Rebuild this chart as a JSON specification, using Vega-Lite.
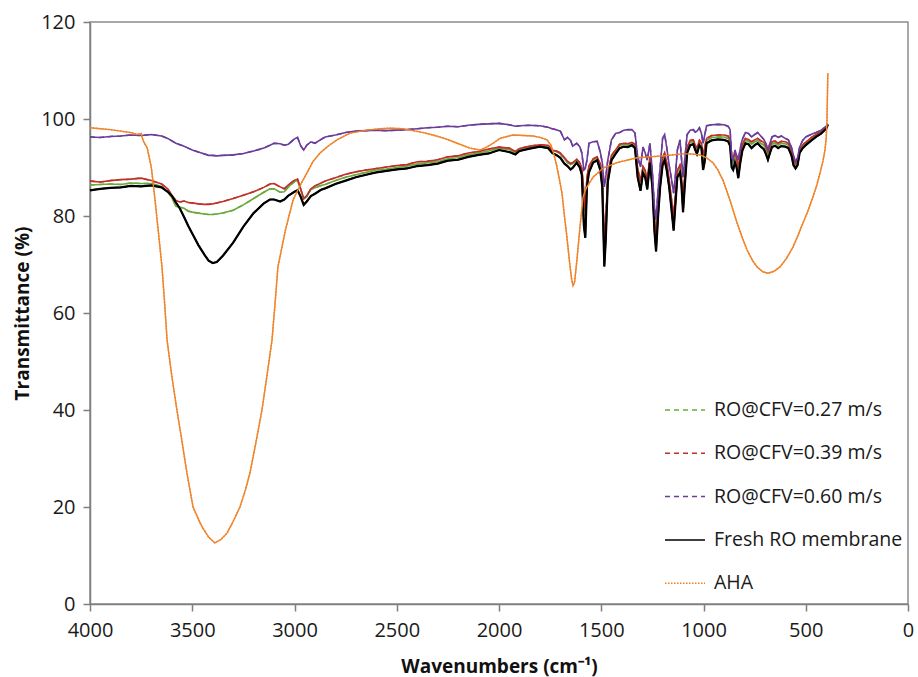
{
  "$schema": "https://vega.github.io/schema/vega-lite/v6.json",
  "width": 818,
  "height": 582,
  "autosize": {"type": "none"},
  "padding": {"left": 90, "top": 22, "right": 10, "bottom": 73},
  "background": "white",
  "config": {
    "font": "Open Sans",
    "view": {"stroke": "#8c8c8c", "strokeWidth": 1.5},
    "axis": {
      "grid": false,
      "domainColor": "#7f7f7f",
      "domainWidth": 1.5,
      "tickColor": "#7f7f7f",
      "tickWidth": 1.5,
      "tickSize": 7,
      "labelFont": "Open Sans",
      "labelFontSize": 20,
      "labelColor": "#1a1a1a",
      "titleFont": "Open Sans",
      "titleFontSize": 19,
      "titleFontWeight": "bold",
      "titleColor": "#111111"
    },
    "legend": {
      "symbolSize": 1600,
      "symbolStrokeWidth": 1.5,
      "rowPadding": 12.3,
      "labelOffset": 8,
      "labelFont": "Open Sans",
      "labelFontSize": 19.5,
      "labelColor": "#1a1a1a",
      "labelLimit": 400,
      "padding": 0
    }
  },
  "data": {
    "values": [
      {"w":4000,"k":85.3,"g":86.4,"r":87.2,"p":96.3},
      {"w":3950,"k":85.6,"g":86.5,"r":87.0,"p":96.2},
      {"w":3900,"k":85.8,"g":86.6,"r":87.3,"p":96.4},
      {"w":3850,"k":85.9,"g":86.5,"r":87.5,"p":96.5},
      {"w":3800,"k":86.2,"g":86.8,"r":87.6,"p":96.7},
      {"w":3750,"k":86.1,"g":86.7,"r":87.8,"p":96.6},
      {"w":3700,"k":86.3,"g":86.7,"r":87.3,"p":96.8},
      {"w":3650,"k":85.9,"g":86.1,"r":86.6,"p":96.5},
      {"w":3620,"k":85.0,"g":85.0,"r":85.6,"p":96.0},
      {"w":3600,"k":84.2,"g":83.8,"r":84.3,"p":95.5},
      {"w":3580,"k":82.8,"g":82.0,"r":83.2,"p":95.0},
      {"w":3560,"k":81.5,"g":81.8,"r":82.9,"p":94.7},
      {"w":3540,"k":79.8,"g":81.6,"r":83.1,"p":94.4},
      {"w":3520,"k":78.0,"g":81.0,"r":82.8,"p":94.0},
      {"w":3500,"k":76.4,"g":80.8,"r":82.7,"p":93.6},
      {"w":3470,"k":74.0,"g":80.6,"r":82.5,"p":93.2},
      {"w":3440,"k":72.0,"g":80.4,"r":82.4,"p":92.8},
      {"w":3420,"k":70.8,"g":80.3,"r":82.4,"p":92.5},
      {"w":3400,"k":70.3,"g":80.3,"r":82.5,"p":92.5},
      {"w":3380,"k":70.5,"g":80.4,"r":82.7,"p":92.4},
      {"w":3350,"k":71.8,"g":80.6,"r":83.0,"p":92.5},
      {"w":3300,"k":74.5,"g":81.2,"r":83.6,"p":92.6},
      {"w":3250,"k":77.8,"g":82.3,"r":84.3,"p":92.9},
      {"w":3200,"k":80.6,"g":83.6,"r":85.0,"p":93.4},
      {"w":3150,"k":82.6,"g":84.9,"r":85.9,"p":94.0},
      {"w":3120,"k":83.4,"g":85.6,"r":86.6,"p":94.6},
      {"w":3100,"k":83.4,"g":85.6,"r":86.7,"p":95.0},
      {"w":3070,"k":83.0,"g":84.9,"r":86.0,"p":94.9},
      {"w":3050,"k":83.4,"g":85.0,"r":85.6,"p":94.6},
      {"w":3030,"k":84.2,"g":86.0,"r":86.4,"p":94.8},
      {"w":3000,"k":85.0,"g":87.1,"r":87.4,"p":95.9},
      {"w":2985,"k":85.3,"g":87.3,"r":87.6,"p":96.2},
      {"w":2970,"k":84.0,"g":85.5,"r":85.6,"p":94.5},
      {"w":2955,"k":82.3,"g":83.5,"r":83.6,"p":93.6},
      {"w":2940,"k":83.0,"g":84.0,"r":84.2,"p":94.6},
      {"w":2920,"k":84.1,"g":85.5,"r":85.6,"p":95.3},
      {"w":2900,"k":84.6,"g":85.8,"r":86.2,"p":95.0},
      {"w":2870,"k":85.4,"g":86.3,"r":86.8,"p":95.8},
      {"w":2850,"k":85.7,"g":86.5,"r":87.2,"p":96.3},
      {"w":2800,"k":86.6,"g":87.3,"r":87.9,"p":96.7},
      {"w":2750,"k":87.3,"g":88.0,"r":88.6,"p":97.2},
      {"w":2700,"k":88.0,"g":88.5,"r":89.1,"p":97.5},
      {"w":2650,"k":88.5,"g":89.0,"r":89.5,"p":97.6},
      {"w":2600,"k":89.0,"g":89.5,"r":89.8,"p":97.7},
      {"w":2550,"k":89.3,"g":89.7,"r":90.1,"p":97.6},
      {"w":2500,"k":89.6,"g":90.0,"r":90.4,"p":97.7},
      {"w":2450,"k":89.8,"g":90.3,"r":90.6,"p":97.8},
      {"w":2400,"k":90.3,"g":90.7,"r":91.2,"p":98.0},
      {"w":2350,"k":90.5,"g":91.0,"r":91.3,"p":98.2},
      {"w":2300,"k":90.8,"g":91.2,"r":91.6,"p":98.3},
      {"w":2250,"k":91.4,"g":91.8,"r":92.2,"p":98.5},
      {"w":2200,"k":91.6,"g":92.0,"r":92.4,"p":98.4},
      {"w":2150,"k":92.2,"g":92.6,"r":93.0,"p":98.7},
      {"w":2100,"k":92.6,"g":93.0,"r":93.3,"p":98.9},
      {"w":2050,"k":92.9,"g":93.4,"r":93.8,"p":99.0},
      {"w":2000,"k":93.6,"g":94.0,"r":94.2,"p":99.1},
      {"w":1950,"k":93.2,"g":93.7,"r":94.0,"p":98.8},
      {"w":1920,"k":92.7,"g":93.0,"r":93.3,"p":98.5},
      {"w":1900,"k":93.4,"g":93.7,"r":93.9,"p":98.6},
      {"w":1850,"k":93.9,"g":94.2,"r":94.4,"p":98.7},
      {"w":1800,"k":94.3,"g":94.5,"r":94.7,"p":98.6},
      {"w":1760,"k":94.0,"g":94.4,"r":94.6,"p":98.3},
      {"w":1740,"k":93.0,"g":93.5,"r":93.6,"p":98.0},
      {"w":1720,"k":92.6,"g":93.3,"r":93.4,"p":97.8},
      {"w":1700,"k":92.0,"g":92.8,"r":93.0,"p":97.5},
      {"w":1680,"k":90.8,"g":91.8,"r":92.0,"p":95.7},
      {"w":1665,"k":90.3,"g":91.0,"r":91.3,"p":96.2},
      {"w":1650,"k":89.6,"g":90.6,"r":90.8,"p":95.6},
      {"w":1640,"k":89.9,"g":90.8,"r":91.0,"p":94.4},
      {"w":1620,"k":91.0,"g":91.5,"r":91.7,"p":95.0},
      {"w":1605,"k":90.0,"g":90.8,"r":91.0,"p":94.3},
      {"w":1595,"k":88.5,"g":89.5,"r":89.8,"p":93.0},
      {"w":1585,"k":78.0,"g":84.0,"r":85.0,"p":89.5},
      {"w":1578,"k":75.5,"g":80.0,"r":81.0,"p":89.8},
      {"w":1570,"k":86.0,"g":87.5,"r":88.0,"p":91.5},
      {"w":1560,"k":89.0,"g":90.0,"r":90.3,"p":95.0},
      {"w":1540,"k":91.0,"g":91.5,"r":91.8,"p":95.3},
      {"w":1520,"k":91.5,"g":92.0,"r":92.2,"p":95.4},
      {"w":1505,"k":89.5,"g":90.5,"r":90.8,"p":93.2},
      {"w":1495,"k":86.0,"g":87.5,"r":88.0,"p":91.0},
      {"w":1485,"k":69.6,"g":73.0,"r":74.5,"p":86.0},
      {"w":1478,"k":75.0,"g":78.0,"r":79.0,"p":88.0},
      {"w":1468,"k":87.0,"g":88.0,"r":88.4,"p":91.5},
      {"w":1450,"k":91.5,"g":92.2,"r":92.5,"p":95.7},
      {"w":1430,"k":92.8,"g":93.3,"r":93.6,"p":97.0},
      {"w":1410,"k":94.0,"g":94.6,"r":94.8,"p":97.2},
      {"w":1390,"k":94.3,"g":94.8,"r":95.0,"p":97.7},
      {"w":1370,"k":94.2,"g":94.6,"r":94.9,"p":97.8},
      {"w":1350,"k":94.6,"g":95.0,"r":95.2,"p":97.8},
      {"w":1335,"k":94.0,"g":94.5,"r":94.8,"p":97.1},
      {"w":1322,"k":88.0,"g":89.5,"r":89.8,"p":92.2},
      {"w":1308,"k":85.2,"g":86.8,"r":87.2,"p":90.1},
      {"w":1296,"k":88.9,"g":89.8,"r":90.2,"p":94.2},
      {"w":1285,"k":88.0,"g":89.0,"r":89.4,"p":93.0},
      {"w":1275,"k":85.5,"g":87.0,"r":87.4,"p":91.5},
      {"w":1262,"k":91.0,"g":91.8,"r":92.2,"p":95.0},
      {"w":1250,"k":86.0,"g":87.0,"r":87.5,"p":89.0},
      {"w":1240,"k":77.0,"g":78.5,"r":79.5,"p":82.0},
      {"w":1232,"k":72.7,"g":74.5,"r":76.0,"p":79.2},
      {"w":1222,"k":80.0,"g":81.5,"r":82.5,"p":85.5},
      {"w":1212,"k":86.0,"g":87.0,"r":87.5,"p":90.0},
      {"w":1200,"k":90.5,"g":91.5,"r":92.0,"p":96.0},
      {"w":1190,"k":91.5,"g":92.5,"r":93.0,"p":96.8},
      {"w":1180,"k":89.5,"g":90.5,"r":91.0,"p":94.2},
      {"w":1168,"k":86.0,"g":87.0,"r":87.5,"p":90.5},
      {"w":1158,"k":82.0,"g":83.5,"r":84.0,"p":88.0},
      {"w":1146,"k":77.0,"g":79.0,"r":80.0,"p":84.7},
      {"w":1138,"k":82.0,"g":83.0,"r":83.8,"p":88.0},
      {"w":1128,"k":88.0,"g":89.0,"r":89.5,"p":93.6},
      {"w":1115,"k":89.0,"g":90.0,"r":90.5,"p":95.7},
      {"w":1108,"k":86.5,"g":87.5,"r":88.0,"p":92.0},
      {"w":1100,"k":80.8,"g":83.0,"r":84.0,"p":88.0},
      {"w":1092,"k":86.0,"g":87.5,"r":88.0,"p":91.5},
      {"w":1080,"k":93.0,"g":93.8,"r":94.2,"p":96.8},
      {"w":1065,"k":94.6,"g":95.2,"r":95.6,"p":97.7},
      {"w":1050,"k":94.8,"g":95.3,"r":95.7,"p":97.8},
      {"w":1040,"k":93.6,"g":94.2,"r":94.6,"p":97.3},
      {"w":1032,"k":92.8,"g":93.5,"r":94.0,"p":97.5},
      {"w":1020,"k":94.6,"g":95.2,"r":95.6,"p":98.2},
      {"w":1010,"k":94.0,"g":94.8,"r":95.0,"p":97.0},
      {"w":1002,"k":89.5,"g":91.5,"r":92.5,"p":95.0},
      {"w":995,"k":91.0,"g":93.0,"r":94.0,"p":96.5},
      {"w":985,"k":95.0,"g":95.6,"r":96.0,"p":98.6},
      {"w":960,"k":95.6,"g":96.2,"r":96.6,"p":98.8},
      {"w":930,"k":95.8,"g":96.3,"r":96.7,"p":98.9},
      {"w":900,"k":95.7,"g":96.3,"r":96.7,"p":98.8},
      {"w":880,"k":95.4,"g":96.0,"r":96.5,"p":98.5},
      {"w":870,"k":94.5,"g":95.3,"r":95.8,"p":97.8},
      {"w":862,"k":90.0,"g":91.5,"r":92.5,"p":92.0},
      {"w":855,"k":89.5,"g":91.0,"r":92.0,"p":91.5},
      {"w":846,"k":91.0,"g":92.0,"r":93.0,"p":93.6},
      {"w":838,"k":90.0,"g":91.0,"r":91.8,"p":92.5},
      {"w":830,"k":87.8,"g":89.0,"r":90.0,"p":91.5},
      {"w":820,"k":91.0,"g":92.2,"r":93.0,"p":94.0},
      {"w":810,"k":93.5,"g":94.3,"r":94.8,"p":95.8},
      {"w":795,"k":95.0,"g":95.6,"r":96.0,"p":97.2},
      {"w":780,"k":94.8,"g":95.4,"r":95.8,"p":97.0},
      {"w":765,"k":94.0,"g":94.8,"r":95.3,"p":96.3},
      {"w":750,"k":94.6,"g":95.3,"r":95.7,"p":96.8},
      {"w":735,"k":95.0,"g":95.6,"r":96.0,"p":97.2},
      {"w":720,"k":94.3,"g":95.0,"r":95.5,"p":96.5},
      {"w":705,"k":93.8,"g":94.6,"r":95.2,"p":95.8},
      {"w":695,"k":92.8,"g":93.8,"r":94.3,"p":95.0},
      {"w":685,"k":91.6,"g":92.6,"r":93.2,"p":93.6},
      {"w":675,"k":93.0,"g":93.8,"r":94.3,"p":95.0},
      {"w":665,"k":94.2,"g":94.8,"r":95.3,"p":96.3},
      {"w":650,"k":94.5,"g":95.1,"r":95.5,"p":96.6},
      {"w":635,"k":94.0,"g":94.6,"r":95.0,"p":96.2},
      {"w":620,"k":94.4,"g":95.0,"r":95.4,"p":96.5},
      {"w":600,"k":94.3,"g":94.9,"r":95.3,"p":96.0},
      {"w":585,"k":94.0,"g":94.6,"r":95.0,"p":95.7},
      {"w":570,"k":92.5,"g":93.2,"r":93.6,"p":94.2},
      {"w":560,"k":90.5,"g":91.2,"r":91.6,"p":92.5},
      {"w":550,"k":89.8,"g":90.5,"r":90.9,"p":91.2},
      {"w":540,"k":90.5,"g":91.2,"r":91.6,"p":92.0},
      {"w":530,"k":93.0,"g":93.5,"r":93.8,"p":94.2},
      {"w":515,"k":94.0,"g":94.5,"r":94.7,"p":95.6},
      {"w":500,"k":94.6,"g":95.0,"r":95.2,"p":96.3},
      {"w":475,"k":95.5,"g":95.9,"r":96.1,"p":96.8},
      {"w":450,"k":96.3,"g":96.6,"r":96.8,"p":97.2},
      {"w":425,"k":97.0,"g":97.2,"r":97.4,"p":97.7},
      {"w":400,"k":98.0,"g":98.2,"r":98.3,"p":98.5},
      {"w":392,"k":98.8,"g":98.9,"r":99.0,"p":99.0},
      {"w":4000,"o":98.2},{"w":3950,"o":98.0},{"w":3900,"o":97.8},{"w":3850,"o":97.5},
      {"w":3800,"o":97.2},{"w":3770,"o":96.8},{"w":3750,"o":97.0},{"w":3740,"o":95.5},
      {"w":3720,"o":94.0},{"w":3700,"o":90.0},{"w":3682,"o":83.3},{"w":3665,"o":76.5},
      {"w":3648,"o":69.5},{"w":3635,"o":62.0},{"w":3623,"o":54.4},{"w":3600,"o":47.0},
      {"w":3575,"o":40.0},{"w":3550,"o":33.5},{"w":3526,"o":27.0},{"w":3496,"o":20.0},
      {"w":3470,"o":17.5},{"w":3452,"o":15.9},{"w":3420,"o":13.8},{"w":3390,"o":12.6},
      {"w":3360,"o":13.3},{"w":3330,"o":14.6},{"w":3300,"o":17.0},{"w":3267,"o":20.0},
      {"w":3240,"o":23.5},{"w":3218,"o":27.0},{"w":3190,"o":33.0},{"w":3159,"o":40.0},
      {"w":3135,"o":47.0},{"w":3110,"o":54.4},{"w":3095,"o":62.0},{"w":3081,"o":69.5},
      {"w":3045,"o":77.0},{"w":3007,"o":83.3},{"w":2970,"o":86.5},{"w":2939,"o":88.9},
      {"w":2910,"o":91.2},{"w":2875,"o":93.0},{"w":2830,"o":94.6},{"w":2792,"o":95.7},
      {"w":2729,"o":97.1},{"w":2646,"o":97.7},{"w":2580,"o":98.0},{"w":2533,"o":98.1},
      {"w":2470,"o":98.0},{"w":2420,"o":97.6},{"w":2370,"o":97.2},{"w":2323,"o":96.7},
      {"w":2260,"o":95.9},{"w":2205,"o":95.0},{"w":2142,"o":94.0},{"w":2093,"o":93.6},
      {"w":2060,"o":94.2},{"w":2029,"o":95.0},{"w":1995,"o":96.0},{"w":1960,"o":96.4},
      {"w":1932,"o":96.7},{"w":1880,"o":96.6},{"w":1834,"o":96.5},{"w":1800,"o":96.2},
      {"w":1765,"o":95.7},{"w":1745,"o":94.5},{"w":1730,"o":92.5},{"w":1716,"o":90.0},
      {"w":1700,"o":86.5},{"w":1692,"o":84.7},{"w":1680,"o":80.0},{"w":1668,"o":75.7},
      {"w":1655,"o":70.5},{"w":1645,"o":67.0},{"w":1638,"o":65.6},{"w":1630,"o":66.5},
      {"w":1619,"o":70.9},{"w":1604,"o":77.7},{"w":1589,"o":83.9},{"w":1580,"o":85.0},
      {"w":1570,"o":86.0},{"w":1540,"o":88.0},{"w":1491,"o":89.9},{"w":1423,"o":91.0},
      {"w":1325,"o":92.0},{"w":1198,"o":92.4},{"w":1100,"o":92.8},{"w":1066,"o":92.8},
      {"w":1017,"o":92.6},{"w":985,"o":92.0},{"w":954,"o":91.0},{"w":930,"o":89.5},
      {"w":905,"o":87.4},{"w":871,"o":83.3},{"w":836,"o":78.6},{"w":810,"o":75.5},
      {"w":787,"o":73.0},{"w":760,"o":70.8},{"w":738,"o":69.5},{"w":710,"o":68.5},
      {"w":685,"o":68.2},{"w":655,"o":68.6},{"w":626,"o":69.5},{"w":595,"o":71.2},
      {"w":562,"o":73.6},{"w":540,"o":75.8},{"w":513,"o":78.6},{"w":490,"o":81.0},
      {"w":465,"o":83.9},{"w":445,"o":86.5},{"w":430,"o":88.9},{"w":415,"o":91.5},
      {"w":406,"o":93.6},{"w":400,"o":96.0},{"w":396,"o":100.0},{"w":392,"o":109.5}
    ]
  },
  "transform": [
    {"fold": ["g", "r", "p", "k", "o"], "as": ["s", "t"]},
    {"filter": "isValid(datum.t)"}
  ],
  "encoding": {
    "x": {
      "field": "w",
      "type": "quantitative",
      "scale": {"domain": [0, 4000], "reverse": true, "nice": false},
      "axis": {
        "values": [4000, 3500, 3000, 2500, 2000, 1500, 1000, 500, 0],
        "format": "d",
        "title": "Wavenumbers (cm⁻¹)",
        "labelPadding": 9,
        "titlePadding": 17,
        "labelFlush": false
      }
    },
    "y": {
      "field": "t",
      "type": "quantitative",
      "scale": {"domain": [0, 120], "nice": false},
      "axis": {
        "values": [0, 20, 40, 60, 80, 100, 120],
        "title": "Transmittance (%)",
        "labelPadding": 8,
        "titlePadding": 8
      }
    }
  },
  "layer": [
    {
      "mark": {"type": "line", "strokeWidth": 1.5},
      "encoding": {
        "color": {
          "field": "s",
          "type": "nominal",
          "scale": {
            "domain": ["g", "r", "p", "k", "o"],
            "range": ["#6aaa3a", "#c0302a", "#6a3d9a", "#000000", "#f07d1e"]
          },
          "legend": {
            "orient": "none",
            "legendX": 574,
            "legendY": 367,
            "title": null,
            "symbolType": "stroke",
            "symbolSize": 1600,
            "labelExpr": "{'g':'RO@CFV=0.27 m/s','r':'RO@CFV=0.39 m/s','p':'RO@CFV=0.60 m/s','k':'Fresh RO membrane','o':'AHA'}[datum.value]"
          }
        },
        "strokeDash": {
          "field": "s",
          "type": "nominal",
          "scale": {
            "domain": ["g", "r", "p", "k", "o"],
            "range": [[5, 4], [5, 4], [5, 4], [1, 0], [1.5, 1.5]]
          },
          "legend": {
            "orient": "none",
            "legendX": 574,
            "legendY": 367,
            "title": null,
            "symbolType": "stroke",
            "symbolSize": 1600,
            "labelExpr": "{'g':'RO@CFV=0.27 m/s','r':'RO@CFV=0.39 m/s','p':'RO@CFV=0.60 m/s','k':'Fresh RO membrane','o':'AHA'}[datum.value]"
          }
        }
      }
    },
    {
      "transform": [{"filter": "datum.s === 'g'"}],
      "mark": {"type": "line", "color": "#6aaa3a", "strokeWidth": 1.6},
      "encoding": {}
    },
    {
      "transform": [{"filter": "datum.s === 'r'"}],
      "mark": {"type": "line", "color": "#c0302a", "strokeWidth": 1.6},
      "encoding": {}
    },
    {
      "transform": [{"filter": "datum.s === 'k'"}],
      "mark": {"type": "line", "color": "#000000", "strokeWidth": 2.2},
      "encoding": {}
    },
    {
      "transform": [{"filter": "datum.s === 'p'"}],
      "mark": {"type": "line", "color": "#6a3d9a", "strokeWidth": 1.6},
      "encoding": {}
    },
    {
      "transform": [{"filter": "datum.s === 'o'"}],
      "mark": {"type": "line", "color": "#f0842a", "strokeWidth": 1.4},
      "encoding": {}
    }
  ]
}
